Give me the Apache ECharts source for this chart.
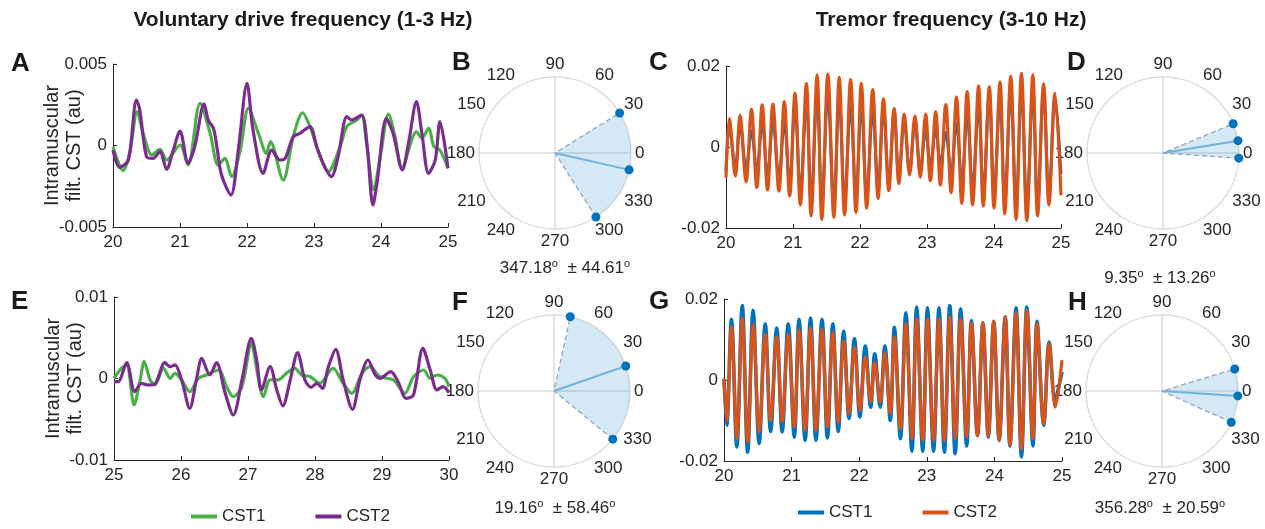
<!DOCTYPE html>
<html><head><meta charset="utf-8">
<script src="https://cdn.jsdelivr.net/npm/echarts@6/dist/echarts.min.js"></script>
<style>html,body{margin:0;padding:0;background:#fff}#c{width:1265px;height:529px}</style>
</head><body><div id="c"></div><script>
const FONT = "'Liberation Sans', Arial, Helvetica, sans-serif";
const TXT = '#262626';

// ---- Data (values in units of 1e-3 au) ----
// Panel A: voluntary drive band, 20-25 s
const aCST1 = [[20.00,-0.07],[20.15,-1.54],[20.25,-0.47],[20.36,2.08],[20.45,0.75],[20.58,-0.58],[20.70,-0.24],[20.80,-0.89],[21.00,0.03],[21.12,-1.20],[21.30,2.59],[21.45,0.75],[21.57,-1.20],[21.67,-0.79],[21.77,-1.91],[21.90,-0.28],[22.02,2.28],[22.17,0.75],[22.29,-0.48],[22.35,0.24],[22.54,-2.12],[22.69,0.54],[22.83,2.01],[22.94,1.16],[23.11,-0.89],[23.21,-1.61],[23.39,-0.07],[23.49,1.16],[23.64,1.56],[23.71,1.87],[23.79,-0.07],[23.89,-2.73],[23.99,-0.68],[24.11,1.93],[24.21,0.54],[24.31,-1.40],[24.53,0.85],[24.61,0.45],[24.71,1.05],[24.79,-0.07],[24.88,-0.28],[25.00,-1.40]];
const aCST2 = [[20.00,-0.28],[20.10,-1.34],[20.23,-0.89],[20.35,2.79],[20.40,2.18],[20.50,-0.68],[20.60,-0.79],[20.70,-0.38],[20.80,-1.46],[20.90,-0.28],[21.00,0.89],[21.12,-1.09],[21.22,-0.07],[21.36,2.55],[21.42,1.57],[21.50,1.05],[21.55,-0.07],[21.62,-1.81],[21.76,-3.04],[21.87,-0.28],[22.00,3.81],[22.09,0.95],[22.24,-1.71],[22.37,-0.28],[22.49,-0.89],[22.57,-0.79],[22.69,0.54],[22.79,0.75],[22.94,1.16],[23.04,-0.07],[23.16,-1.30],[23.26,-1.91],[23.36,-0.68],[23.49,1.77],[23.56,1.56],[23.71,1.87],[23.79,0.13],[23.88,-3.65],[23.94,-2.33],[24.08,1.67],[24.18,0.75],[24.32,-1.50],[24.41,0.13],[24.53,2.69],[24.61,0.75],[24.71,-1.71],[24.81,-0.89],[24.88,1.46],[25.00,-1.40]];
// Panel E: voluntary drive band, 25-30 s
const eCST1 = [[25.00,0.00],[25.11,1.25],[25.19,1.64],[25.30,-3.25],[25.39,-0.18],[25.45,2.07],[25.54,-0.18],[25.61,-0.80],[25.74,1.25],[25.84,0.02],[25.91,0.63],[26.01,-0.18],[26.13,-1.62],[26.26,0.02],[26.38,0.43],[26.56,1.04],[26.68,-1.00],[26.78,-2.23],[26.91,-1.00],[27.05,4.31],[27.15,0.22],[27.23,-2.23],[27.33,-0.18],[27.45,-0.18],[27.57,0.63],[27.70,1.25],[27.80,0.43],[27.93,0.22],[28.07,-0.59],[28.27,1.25],[28.42,-0.59],[28.55,-1.82],[28.70,0.63],[28.82,1.45],[28.97,0.22],[29.17,-0.18],[29.34,-1.82],[29.47,0.22],[29.62,1.04],[29.72,0.02],[29.82,0.43],[29.94,0.02],[30.00,-1.00]];
const eCST2 = [[25.00,-0.39],[25.06,-0.39],[25.19,1.94],[25.31,-1.62],[25.41,-0.60],[25.51,-0.80],[25.61,-0.68],[25.76,1.94],[25.84,1.45],[25.91,1.66],[26.01,-0.18],[26.13,-3.66],[26.23,-0.18],[26.31,2.47],[26.43,0.43],[26.53,1.94],[26.66,-1.82],[26.78,-4.48],[26.91,-0.18],[27.05,4.93],[27.13,2.27],[27.20,-1.41],[27.33,1.45],[27.43,-1.41],[27.52,-3.37],[27.63,-0.18],[27.74,3.17],[27.85,-0.18],[27.94,-1.08],[28.03,-0.59],[28.11,-1.21],[28.20,1.45],[28.31,3.58],[28.42,-0.18],[28.56,-3.78],[28.67,-0.18],[28.79,2.27],[28.90,0.43],[28.97,0.02],[29.13,0.84],[29.24,-0.39],[29.36,-2.43],[29.47,-2.02],[29.61,3.70],[29.72,1.04],[29.82,-1.41],[29.91,-1.00],[30.00,-1.74]];
// Panel C: tremor band, 20-25 s (peaks and troughs)
const cCST1 = [[20.00,-6.0],[20.05,5.0],[20.14,-5.0],[20.21,5.5],[20.30,-5.5],[20.38,4.0],[20.46,-6.0],[20.54,6.0],[20.62,-7.0],[20.70,6.5],[20.79,-7.5],[20.87,6.0],[20.95,-9.0],[21.03,11.0],[21.11,-11.0],[21.20,11.5],[21.27,-13.0],[21.36,13.5],[21.43,-14.5],[21.52,13.0],[21.61,-14.0],[21.69,12.5],[21.77,-13.0],[21.86,10.0],[21.94,-12.5],[22.02,10.5],[22.10,-12.0],[22.19,9.0],[22.27,-10.5],[22.35,9.5],[22.43,-9.0],[22.51,9.0],[22.58,-7.5],[22.66,6.5],[22.74,-6.0],[22.82,6.0],[22.90,-5.5],[22.98,4.0],[23.05,-4.5],[23.13,4.5],[23.20,-4.0],[23.28,3.5],[23.36,-6.5],[23.44,6.0],[23.52,-8.5],[23.60,8.0],[23.68,-10.0],[23.77,10.0],[23.84,-11.5],[23.93,13.0],[24.00,-12.0],[24.09,12.0],[24.16,-13.5],[24.25,13.5],[24.33,-14.5],[24.41,14.5],[24.49,-15.0],[24.58,13.5],[24.65,-14.5],[24.74,14.0],[24.82,-12.5],[24.91,12.0],[25.00,-6.7]];
const cCST2 = [[20.00,-7.6],[20.05,7.1],[20.14,-7.2],[20.21,7.9],[20.30,-8.6],[20.38,9.3],[20.46,-10.0],[20.54,10.4],[20.62,-10.6],[20.70,10.6],[20.79,-10.9],[20.87,11.2],[20.95,-12.1],[21.03,13.3],[21.11,-14.3],[21.20,15.7],[21.27,-17.0],[21.36,17.8],[21.43,-17.9],[21.52,18.0],[21.61,-17.4],[21.69,17.2],[21.77,-16.8],[21.86,16.7],[21.94,-16.2],[22.02,15.7],[22.10,-15.1],[22.19,14.2],[22.27,-12.7],[22.35,11.9],[22.43,-10.8],[22.51,9.5],[22.58,-9.0],[22.66,8.1],[22.74,-6.9],[22.82,7.7],[22.90,-7.5],[22.98,8.1],[23.05,-8.3],[23.13,8.7],[23.20,-9.4],[23.28,10.5],[23.36,-11.3],[23.44,12.3],[23.52,-13.9],[23.60,13.7],[23.68,-14.3],[23.77,15.1],[23.84,-14.6],[23.93,14.9],[24.00,-15.1],[24.09,16.1],[24.16,-16.5],[24.25,17.5],[24.33,-17.9],[24.41,18.2],[24.49,-18.2],[24.58,17.8],[24.65,-17.0],[24.74,15.6],[24.82,-14.3],[24.91,13.3],[25.00,-11.9]];
// Panel G: tremor band, 20-25 s
const gCST1 = [[20.00,0.3],[20.04,-11.2],[20.11,15.0],[20.19,-16.5],[20.27,18.4],[20.35,-17.8],[20.43,17.2],[20.52,-15.7],[20.61,13.9],[20.69,-12.7],[20.78,12.8],[20.86,-12.8],[20.95,13.9],[21.04,-14.1],[21.11,15.0],[21.20,-14.9],[21.28,15.3],[21.36,-14.9],[21.45,15.0],[21.53,-14.3],[21.61,13.9],[21.69,-12.7],[21.77,12.0],[21.85,-9.5],[21.93,10.2],[22.01,-9.1],[22.09,8.4],[22.17,-6.7],[22.23,6.5],[22.31,-6.7],[22.38,8.4],[22.46,-10.0],[22.52,13.0],[22.61,-14.5],[22.69,16.6],[22.78,-17.6],[22.85,18.0],[22.94,-17.6],[23.01,17.8],[23.10,-17.6],[23.18,17.8],[23.26,-17.8],[23.34,18.3],[23.42,-18.2],[23.50,17.6],[23.59,-16.3],[23.66,14.7],[23.75,-13.7],[23.83,14.1],[23.91,-14.1],[23.99,14.5],[24.07,-14.9],[24.16,15.6],[24.23,-16.3],[24.32,17.8],[24.40,-19.0],[24.48,18.0],[24.57,-16.3],[24.63,14.5],[24.73,-11.2],[24.81,9.4],[24.90,-4.6],[25.00,2.0]];
const gCST2 = [[20.00,0.3],[20.04,-10.0],[20.11,13.1],[20.19,-14.5],[20.27,15.3],[20.35,-15.3],[20.43,13.7],[20.52,-12.8],[20.61,11.2],[20.69,-10.0],[20.78,10.6],[20.86,-10.2],[20.95,11.2],[21.04,-11.6],[21.11,12.3],[21.20,-12.4],[21.28,12.8],[21.36,-12.4],[21.45,12.5],[21.53,-11.6],[21.61,11.7],[21.69,-10.4],[21.77,9.6],[21.85,-8.3],[21.93,8.1],[22.01,-7.5],[22.09,5.7],[22.17,-5.4],[22.23,4.4],[22.31,-5.4],[22.38,6.7],[22.46,-8.3],[22.52,10.6],[22.61,-12.0],[22.69,13.9],[22.78,-14.5],[22.85,15.1],[22.94,-14.9],[23.01,15.1],[23.10,-14.9],[23.18,15.1],[23.26,-14.9],[23.34,15.6],[23.42,-14.5],[23.50,15.1],[23.59,-14.1],[23.66,14.1],[23.75,-13.8],[23.83,14.1],[23.91,-13.8],[23.99,14.5],[24.07,-14.9],[24.16,15.6],[24.23,-16.1],[24.32,16.6],[24.40,-17.0],[24.48,17.2],[24.57,-14.5],[24.63,13.9],[24.73,-10.8],[24.81,9.0],[24.90,-6.7],[25.00,4.9]];
// Polar panels B, D, F, H: mean phase and SD (degrees)
const polarPanels = ['B','D','F','H'];
const polarMeans = [347.18, 9.35, 19.16, 356.28];
const polarStds  = [44.61, 13.26, 58.46, 20.59];
const polarTicks = [0,30,60,90,120,150,180,210,240,270,300,330];
const seriesNames = ['CST1','CST2'];

const SCALE = 1e-3;
const toAu = arr => arr.map(p => [p[0], p[1]*SCALE]);

const GREEN = '#4DAF4A', PURPLE = '#7B2D8E', BLUE = '#0072BD', ORANGE = '#D95319';
const GRAY = '#DCDCDC';

const grids = [
  {left:113, top:64, width:335, height:163},
  {left:726, top:66, width:335, height:162},
  {left:114, top:297, width:335, height:163},
  {left:724, top:299, width:338, height:162}
];
const xr = [[20,25],[20,25],[25,30],[20,25]];
const yr = [[-0.005,0.005,0.005],[-0.02,0.02,0.02],[-0.01,0.01,0.01],[-0.02,0.02,0.02]];
const axisLineStyle = {color: TXT, width: 1};
const xAxes = grids.map((g,i)=>({
  type:'value', gridIndex:i, min:xr[i][0], max:xr[i][1], interval:1,
  axisLine:{show:true, onZero:false, lineStyle:axisLineStyle},
  axisTick:{show:true, inside:true, length:4, lineStyle:axisLineStyle},
  axisLabel:{fontSize:17, color:TXT, fontFamily:FONT, margin:7},
  splitLine:{show:false}
}));
const yAxes = grids.map((g,i)=>({
  type:'value', gridIndex:i, min:yr[i][0], max:yr[i][1], interval:yr[i][2],
  axisLine:{show:true, onZero:false, lineStyle:axisLineStyle},
  axisTick:{show:true, inside:true, length:4, lineStyle:axisLineStyle},
  axisLabel:{fontSize:17, color:TXT, fontFamily:FONT, margin:6},
  splitLine:{show:false},
  name:(i===0||i===2)?'Intramuscular\nfilt. CST (au)':'',
  nameLocation:'middle', nameGap:28, nameRotate:90, nameMoveOverlap:false,
  nameTextStyle:{fontSize:20, lineHeight:22, color:TXT, fontFamily:FONT}
}));

function lineSeries(name, data, idx, color, smooth, width){
  return {type:'line', name, data:toAu(data), xAxisIndex:idx, yAxisIndex:idx,
    showSymbol:false, symbol:'none', smooth, color,
    lineStyle:{color, width}, emphasis:{disabled:true}};
}
const series = [
  lineSeries(seriesNames[0], aCST1, 0, GREEN, 0.3, 3.2),
  lineSeries(seriesNames[1], aCST2, 0, PURPLE, 0.3, 3.2),
  lineSeries(seriesNames[0]+' ', cCST1, 1, BLUE, 0.36, 3),
  lineSeries(seriesNames[1]+' ', cCST2, 1, ORANGE, 0.36, 3.2),
  lineSeries(seriesNames[0], eCST1, 2, GREEN, 0.3, 3.2),
  lineSeries(seriesNames[1], eCST2, 2, PURPLE, 0.3, 3.2),
  lineSeries(seriesNames[0]+' ', gCST1, 3, BLUE, 0.36, 3.6),
  lineSeries(seriesNames[1]+' ', gCST2, 3, ORANGE, 0.36, 3.2)
];

// Polar layout
const polarCenters = [[555,153],[1163,153],[554,391],[1162,391]];
const polars = [], angleAxes = [], radiusAxes = [];
const norm = a => ((a % 360) + 360) % 360;
polarCenters.forEach((c,p)=>{
  polars.push({center:c, radius:76});
  polars.push({center:c, radius:76});
  angleAxes.push({type:'value', polarIndex:2*p, min:0, max:360, interval:30, startAngle:0, clockwise:false,
    axisLine:{show:true, lineStyle:{color:GRAY, width:1.5}}, axisTick:{show:false}, splitLine:{show:false},
    axisLabel:{fontSize:17, color:TXT, fontFamily:FONT, margin:4, formatter:v=> polarTicks.includes(v)? String(v):''}});
  angleAxes.push({type:'value', polarIndex:2*p+1, min:0, max:360, interval:90, startAngle:0, clockwise:false,
    axisLine:{show:false}, axisTick:{show:false}, axisLabel:{show:false},
    splitLine:{show:true, lineStyle:{color:GRAY, width:1.5}}});
  radiusAxes.push({type:'value', polarIndex:2*p, min:0, max:1, show:false, splitLine:{show:false}});
  radiusAxes.push({type:'value', polarIndex:2*p+1, min:0, max:1, show:false, splitLine:{show:false}});
  const m = polarMeans[p], s = polarStds[p];
  const lo = norm(m - s), hi = norm(m + s), mn = norm(m);
  series.push({type:'custom', coordinateSystem:'polar', polarIndex:2*p, silent:true, z:1,
    data:[[1, lo, hi]],
    renderItem:(params, api)=>{
      const c0 = api.coord([0, 0]);
      const a = api.coord([1, api.value(1)]);
      const b = api.coord([1, api.value(2)]);
      const r = Math.hypot(a[0]-c0[0], a[1]-c0[1]);
      return {type:'sector', shape:{cx:c0[0], cy:c0[1], r0:0, r,
        startAngle:Math.atan2(b[1]-c0[1], b[0]-c0[0]), endAngle:Math.atan2(a[1]-c0[1], a[0]-c0[0]), clockwise:true},
        style:{fill:'rgba(77,160,215,0.24)'}};
    }});
  series.push({type:'line', coordinateSystem:'polar', polarIndex:2*p, silent:true, z:2,
    data:[[1, lo],[0, mn],[1, hi]], showSymbol:false, symbol:'none',
    lineStyle:{color:'#8FA6BE', width:1.3, type:[5,3]}});
  series.push({type:'line', coordinateSystem:'polar', polarIndex:2*p, silent:true, z:3,
    data:[[0, mn],[1, mn]], showSymbol:false, symbol:'none',
    lineStyle:{color:'#74B2DD', width:2}});
  series.push({type:'scatter', coordinateSystem:'polar', polarIndex:2*p, silent:true, z:4,
    data:[[1, lo],[1, mn],[1, hi]], symbolSize:9, itemStyle:{color:BLUE, opacity:1}});
});

// Graphic texts
const graphics = [];
function txt(x, y, text, font, align){
  graphics.push({type:'text', x, y, silent:true,
    style:{text, font, fill:'#1a1a1a', align:align||'center', verticalAlign:'middle'}});
}
txt(303, 20, 'Voluntary drive frequency (1-3 Hz)', 'bold 21px '+FONT);
txt(951, 20, 'Tremor frequency (3-10 Hz)', 'bold 21px '+FONT);
const letters = [['A',11,64],['B',452,63],['C',649,63],['D',1067,63],['E',11,302],['F',452,303],['G',649,302],['H',1068,303]];
letters.forEach(l=>txt(l[1], l[2], l[0], 'bold 26px '+FONT, 'left'));
const annPos = [[565,268],[1160,278],[555,508],[1160,508]];
polarMeans.forEach((m,p)=>{
  graphics.push({type:'text', x:annPos[p][0], y:annPos[p][1], silent:true,
    style:{text:'{n|'+m.toFixed(2)+'}{s|o}{n|  \u00B1 '+polarStds[p].toFixed(2)+'}{s|o}',
      align:'center', verticalAlign:'middle',
      rich:{n:{fontSize:17, fontFamily:FONT, fill:TXT, lineHeight:20},
            s:{fontSize:11, fontFamily:FONT, fill:TXT, lineHeight:11, verticalAlign:'top'}}}});
});

const legendCommon = {icon:'rect', itemWidth:26, itemHeight:4, itemGap:50,
  textStyle:{fontSize:17, color:TXT, fontFamily:FONT}, selectedMode:false};
const option = {
  backgroundColor:'#fff', animation:false,
  grid:grids, xAxis:xAxes, yAxis:yAxes,
  polar:polars, angleAxis:angleAxes, radiusAxis:radiusAxes,
  legend:[
    Object.assign({data:seriesNames.slice(), left:186, top:503}, legendCommon),
    Object.assign({data:seriesNames.map(n=>n+' '), left:793, top:499, formatter:n=>n.trim()}, legendCommon)
  ],
  series, graphic:graphics
};
const chart = echarts.init(document.getElementById('c'), null, {renderer:'canvas'});
chart.setOption(option);
</script></body></html>
